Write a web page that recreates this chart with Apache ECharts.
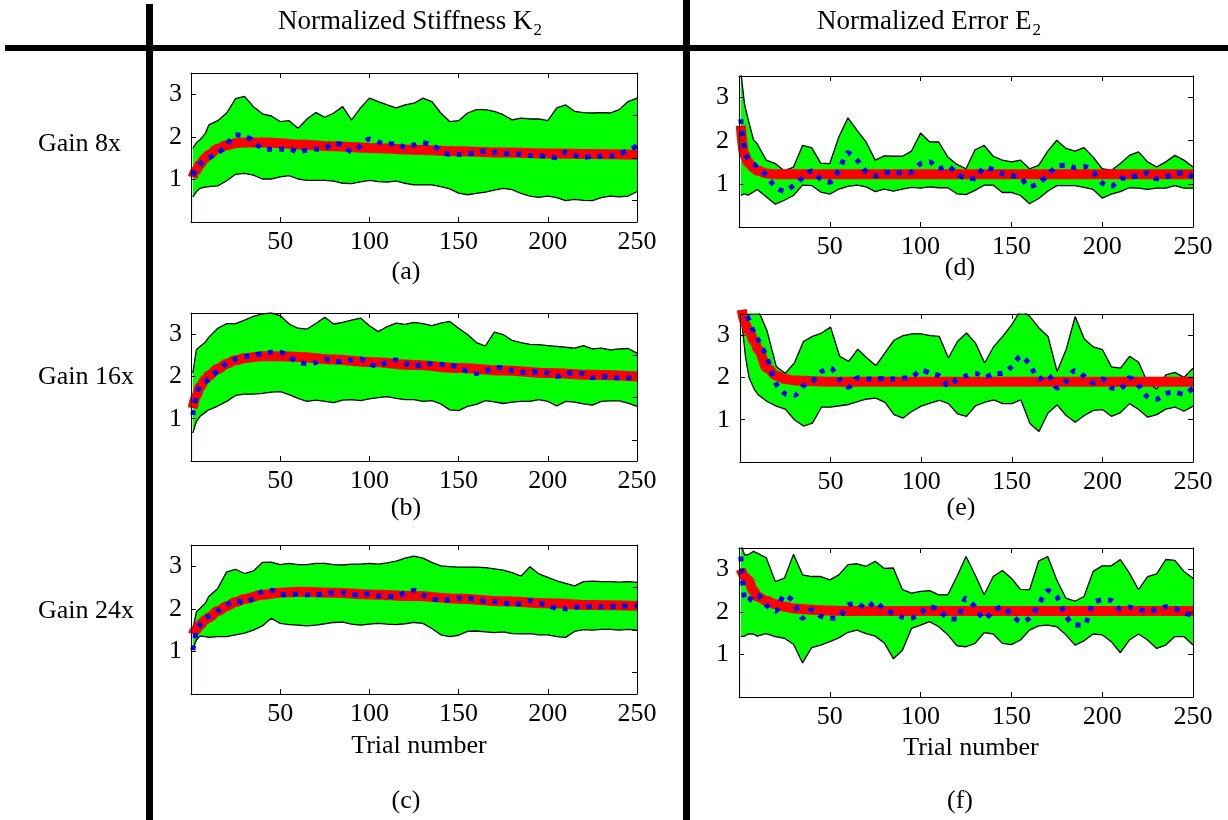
<!DOCTYPE html>
<html><head><meta charset="utf-8">
<script src="https://cdn.jsdelivr.net/npm/echarts@6/dist/echarts.min.js"></script>
<style>html,body{margin:0;padding:0;background:#fff;}#c{width:1228px;height:820px;}</style>
</head><body><div id="c"></div>
<script>
// ---------- data ----------
const trials = [1,3,5,8,10,15,20,25,30,35,40,45,50,55,60,65,70,75,80,85,90,95,100,105,110,115,120,125,130,135,140,145,150,155,160,165,170,175,180,185,190,195,200,205,210,215,220,225,230,235,240,245,250];
const fitTrials = [1,3,5,8,10,15,20,25,30,40,50,60,80,100,125,150,175,200,225,250];
const xTickLabels = [50,100,150,200,250];
const yTickLabels = [1,2,3];

const columnHeaders = ['Normalized Stiffness K', 'Normalized Error E'];
const headerSubscript = '2';
const rowLabels = ['Gain 8x', 'Gain 16x', 'Gain 24x'];
const panelLabels = ['(a)','(b)','(c)','(d)','(e)','(f)'];
const xAxisTitle = 'Trial number';

// (a) stiffness, gain 8x
const upperA = [1.73,1.86,1.93,2.08,2.28,2.38,2.56,2.90,2.95, 2.71,2.54,2.49,2.36,2.38,2.20,2.42,2.57,2.46,2.56, 2.71,2.40,2.68,2.91,2.83,2.75,2.68,2.75,2.79,2.91, 2.83,2.56,2.36,2.38,2.56,2.64,2.64,2.60,2.52,2.40, 2.44,2.42,2.42,2.38,2.68,2.75,2.60,2.57,2.56,2.57, 2.56,2.64,2.83,2.91];
const lowerA = [0.59,0.71,0.79,0.82,0.83,0.85,0.97,1.12,1.14, 1.10,1.01,1.01,1.06,1.09,1.01,0.98,0.98,0.98,0.96, 0.91,0.90,0.94,0.98,0.95,0.94,0.96,0.91,0.87,0.87, 0.87,0.83,0.78,0.68,0.64,0.67,0.70,0.75,0.79,0.76, 0.67,0.61,0.58,0.61,0.57,0.50,0.53,0.51,0.50,0.57, 0.61,0.59,0.61,0.71];
const dataA = [1.10,1.24,1.35,1.47,1.51,1.62,1.81,2.05,2.02, 1.91,1.72,1.71,1.71,1.72,1.64,1.69,1.71,1.73,1.85, 1.81,1.65,1.79,1.95,1.88,1.83,1.85,1.75,1.81,1.86, 1.81,1.68,1.59,1.59,1.60,1.63,1.67,1.64,1.61,1.61, 1.59,1.56,1.56,1.53,1.51,1.64,1.57,1.52,1.54,1.55, 1.55,1.60,1.68,1.79];
const fitA = [1.05,1.22,1.35,1.50,1.58,1.72,1.80,1.85,1.87,1.87,1.85,1.82,1.78,1.74,1.70,1.66,1.63,1.61,1.60,1.58];

// (b) stiffness, gain 16x
const upperB = [2.08,2.63,2.71,2.81,2.93,3.14,3.25,3.25,3.33, 3.42,3.48,3.50,3.44,3.24,3.14,3.12,3.25,3.40,3.24, 3.28,3.33,3.38,3.20,3.06,3.18,3.26,3.23,3.28,3.25, 3.20,3.26,3.30,3.14,2.99,2.80,2.72,3.05,2.99,2.85, 2.80,2.76,2.75,2.73,2.71,2.69,2.67,2.73,2.65,2.67, 2.63,2.65,2.66,2.55];
const lowerB = [0.66,0.93,1.05,1.15,1.21,1.30,1.41,1.55,1.58, 1.58,1.60,1.63,1.64,1.57,1.48,1.41,1.44,1.41,1.38, 1.44,1.45,1.43,1.47,1.50,1.52,1.48,1.45,1.45,1.41, 1.43,1.35,1.21,1.19,1.29,1.34,1.43,1.40,1.36,1.39, 1.41,1.41,1.45,1.41,1.30,1.41,1.39,1.35,1.32,1.41, 1.42,1.42,1.37,1.29];
const dataB = [1.09,1.56,1.78,1.87,1.94,2.14,2.31,2.41,2.46, 2.50,2.54,2.57,2.57,2.46,2.34,2.30,2.33,2.41,2.36, 2.35,2.39,2.41,2.29,2.24,2.35,2.39,2.31,2.24,2.29, 2.30,2.28,2.27,2.21,2.12,2.07,2.12,2.21,2.20,2.14, 2.10,2.10,2.11,2.08,2.00,2.06,2.09,2.06,1.97,2.00, 1.98,1.97,1.97,1.96];
const fitB = [1.25,1.55,1.75,1.93,2.02,2.18,2.30,2.38,2.43,2.48,2.48,2.46,2.40,2.34,2.27,2.20,2.14,2.08,2.04,2.00];

// (c) stiffness, gain 24x
const upperC = [1.50,1.93,2.01,2.13,2.29,2.48,2.87,2.93,2.83, 2.89,3.09,3.10,3.04,3.07,3.04,3.04,3.07,3.07,3.04, 3.03,3.05,3.05,3.07,3.05,3.08,3.12,3.19,3.24,3.19, 3.09,3.01,2.99,2.98,2.98,2.98,2.97,2.94,2.91,2.85, 2.77,2.99,2.82,2.74,2.66,2.60,2.54,2.64,2.65,2.64, 2.64,2.63,2.64,2.62];
const lowerC = [1.03,1.27,1.36,1.35,1.33,1.35,1.35,1.39,1.43, 1.50,1.60,1.78,1.66,1.63,1.62,1.60,1.62,1.65,1.68, 1.69,1.64,1.62,1.64,1.66,1.64,1.63,1.65,1.68,1.66, 1.54,1.39,1.35,1.38,1.47,1.48,1.46,1.44,1.46,1.42, 1.41,1.42,1.39,1.39,1.35,1.33,1.47,1.51,1.50,1.52, 1.52,1.50,1.52,1.50];
const dataC = [1.03,1.46,1.62,1.78,1.82,1.95,2.09,2.19,2.15, 2.25,2.41,2.44,2.35,2.33,2.35,2.33,2.33,2.36,2.38, 2.38,2.34,2.33,2.36,2.31,2.29,2.29,2.38,2.44,2.33, 2.24,2.21,2.22,2.25,2.25,2.21,2.18,2.17,2.15,2.10, 2.13,2.19,2.14,2.08,2.01,2.00,2.04,2.05,2.06,2.05, 2.05,2.07,2.07,2.07];
const fitC = [1.40,1.52,1.62,1.74,1.80,1.95,2.06,2.16,2.23,2.33,2.38,2.40,2.38,2.34,2.30,2.24,2.18,2.13,2.09,2.07];

// (d) error, gain 8x
const upperD = [3.60,2.86,2.50,2.02,1.93,1.55,1.47,1.30,1.39, 1.89,1.84,1.48,1.47,2.09,2.53,2.24,1.97,1.55,1.65, 1.64,1.64,1.76,2.18,1.97,1.97,1.62,1.45,1.35,1.79, 1.89,1.64,1.55,1.51,1.55,1.35,1.43,1.76,2.01,1.82, 1.76,1.84,1.62,1.35,1.31,1.47,1.66,1.74,1.51,1.39, 1.51,1.66,1.55,1.39];
const lowerD = [0.73,0.77,0.74,0.81,0.87,0.70,0.53,0.62,0.73, 0.97,0.96,0.81,0.76,0.88,0.94,0.97,0.93,0.82,0.88, 0.83,0.88,0.92,0.90,0.93,0.91,0.91,0.77,0.75,0.85, 0.97,0.97,0.80,0.80,0.73,0.54,0.66,0.83,0.96,0.96, 0.96,0.92,0.87,0.67,0.76,0.82,0.91,0.90,0.87,0.90, 0.90,0.96,0.90,0.90];
const dataD = [2.50,1.78,1.58,1.47,1.39,1.20,0.93,0.83,0.96, 1.14,1.30,1.11,1.04,1.31,1.72,1.55,1.28,1.19,1.25, 1.27,1.25,1.27,1.47,1.51,1.35,1.41,1.24,1.13,1.12, 1.38,1.33,1.24,1.20,1.14,0.93,1.02,1.20,1.41,1.43, 1.38,1.41,1.28,1.02,0.94,1.12,1.14,1.20,1.25,1.12, 1.16,1.24,1.25,1.16];
const fitD = [2.35,1.68,1.50,1.37,1.31,1.24,1.22,1.22,1.22,1.22,1.22,1.22,1.22,1.22,1.22,1.22,1.22,1.22,1.22,1.22];

// (e) error, gain 16x
const upperE = [3.60,3.60,3.60,3.60,3.60,3.09,2.26,2.10,2.34, 2.85,2.97,3.05,3.19,2.50,2.38,2.67,2.46,2.28,2.58, 2.88,2.99,3.03,3.03,2.99,2.97,2.46,2.85,3.05,2.81, 2.34,2.73,2.97,3.25,3.60,3.44,3.17,2.97,2.14,2.66, 3.44,2.91,2.72,2.66,2.25,2.22,2.50,2.36,1.87,1.73, 2.06,2.12,2.00,2.22];
const lowerE = [3.30,2.50,1.99,1.71,1.59,1.43,1.32,1.25,1.00, 0.85,0.92,1.30,1.30,1.33,1.36,1.43,1.49,1.51,1.41, 1.12,1.04,1.20,1.32,1.39,1.46,1.38,1.14,1.08,1.33, 1.41,1.47,1.38,1.38,1.47,0.91,0.72,1.16,1.35,1.10, 0.94,1.10,1.22,1.24,1.08,1.17,1.38,1.24,1.06,1.12, 1.25,1.30,1.20,1.32];
const dataE = [3.70,3.52,3.36,3.03,2.89,2.46,1.84,1.61,1.57, 1.80,1.91,2.14,2.22,1.95,1.77,1.99,1.96,1.96,1.98, 1.96,1.98,2.01,2.17,2.10,2.04,1.80,1.96,2.04,2.10, 2.01,2.09,2.10,2.26,2.51,2.30,1.96,2.06,1.75,1.91, 2.17,2.03,1.87,1.96,1.75,1.73,1.99,1.81,1.54,1.49, 1.62,1.65,1.60,1.75];
const fitE = [3.60,3.25,3.09,2.85,2.66,2.22,2.04,1.96,1.93,1.91,1.90,1.90,1.90,1.90,1.90,1.90,1.90,1.90,1.90,1.90];

// (f) error, gain 24x
const upperF = [3.60,3.34,3.34,3.42,3.38,3.27,2.71,2.79,3.35, 2.87,2.83,2.83,2.75,2.87,3.11,3.13,3.07,3.19,3.02, 3.03,2.52,2.44,2.48,2.50,2.40,2.40,2.83,3.30,2.87, 2.40,2.83,2.97,2.79,2.53,2.52,3.19,3.30,2.75,2.32, 2.25,2.36,2.95,3.08,3.08,3.23,2.91,2.52,2.83,2.89, 3.23,3.21,2.95,2.79];
const lowerF = [1.42,1.43,1.48,1.48,1.43,1.49,1.42,1.38,1.24, 0.80,1.16,1.22,1.30,1.39,1.52,1.57,1.49,1.43,1.27, 0.90,1.10,1.61,1.69,1.77,1.65,1.46,1.20,1.18,1.26, 1.51,1.48,1.26,1.23,1.34,1.57,1.67,1.69,1.65,1.46, 1.22,1.32,1.48,1.46,1.30,1.04,1.34,1.48,1.34,1.14, 1.22,1.42,1.42,1.22];
const dataF = [3.30,2.32,2.24,2.40,2.40,2.16,2.01,2.40,2.24, 1.85,2.05,1.90,1.85,1.87,2.16,2.20,2.08,2.24,2.05, 1.97,1.87,1.85,1.97,2.12,2.05,1.85,1.83,2.32,2.12, 1.83,2.01,2.12,1.93,1.77,1.85,2.16,2.50,2.36,1.90, 1.69,1.69,2.20,2.28,2.27,2.06,2.11,2.05,2.03,2.05, 2.12,2.08,1.97,1.93];
const fitF = [3.00,2.83,2.75,2.50,2.36,2.26,2.18,2.12,2.08,2.05,2.03,2.02,2.02,2.02,2.02,2.02,2.02,2.02,2.02,2.02];

// right-hand tick marks (no labels)
const rightTicksLeftCol = [0.5,1.5,2.5];
const rightTicksRightCol = [1,2,3];

// ---------- layout ----------
const FONT = '"Liberation Serif","Times New Roman",serif';
const panels = [
  {upper: upperA, lower: lowerA, data: dataA, fit: fitA, rt: rightTicksLeftCol, g: {left:191, top:73, width:446, height:149}, ym: 9},
  {upper: upperB, lower: lowerB, data: dataB, fit: fitB, rt: rightTicksLeftCol, g: {left:191, top:313, width:446, height:148}, ym: 9},
  {upper: upperC, lower: lowerC, data: dataC, fit: fitC, rt: rightTicksLeftCol, g: {left:191, top:545, width:446, height:149}, ym: 9},
  {upper: upperD, lower: lowerD, data: dataD, fit: fitD, rt: rightTicksRightCol, g: {left:739, top:76, width:454, height:151}, ym: 10},
  {upper: upperE, lower: lowerE, data: dataE, fit: fitE, rt: rightTicksRightCol, g: {left:740, top:314, width:453, height:148}, ym: 10},
  {upper: upperF, lower: lowerF, data: dataF, fit: fitF, rt: rightTicksRightCol, g: {left:739, top:548, width:454, height:149}, ym: 10}
];

const axisLineStyle = {show:true, onZero:false, lineStyle:{color:'#000', width:1}};
const grid = [], xAxis = [], yAxis = [], series = [];
panels.forEach((p, i) => {
  grid.push(Object.assign({show:false, containLabel:false}, p.g));
  const tickX = {show:true, inside:true, length:5, customValues: xTickLabels.slice(0,4), lineStyle:{color:'#000', width:1}};
  xAxis.push({gridIndex:i, z:6, type:'value', min:0, max:250, position:'bottom', axisLine:axisLineStyle, axisTick:tickX,
    axisLabel:{customValues:xTickLabels, fontSize:26, fontFamily:FONT, color:'#000', margin:7}, splitLine:{show:false}});
  xAxis.push({gridIndex:i, z:6, type:'value', min:0, max:250, position:'top', axisLine:axisLineStyle, axisTick:tickX,
    axisLabel:{show:false}, splitLine:{show:false}});
  yAxis.push({gridIndex:i, z:6, type:'value', min:0, max:3.5, position:'left', axisLine:axisLineStyle,
    axisTick:{show:true, inside:true, length:5, customValues:yTickLabels, lineStyle:{color:'#000', width:1}},
    axisLabel:{customValues:yTickLabels, fontSize:26, fontFamily:FONT, color:'#000', margin:p.ym}, splitLine:{show:false}});
  yAxis.push({gridIndex:i, z:6, type:'value', min:0, max:3.5, position:'right', axisLine:axisLineStyle,
    axisTick:{show:true, inside:true, length:5, customValues:p.rt, lineStyle:{color:'#000', width:1}},
    axisLabel:{show:false}, splitLine:{show:false}});
  const xi = 2*i, yi = 2*i;
  const pair = arr => trials.map((t, k) => [t, arr[k]]);
  const base = {type:'line', xAxisIndex:xi, yAxisIndex:yi, symbol:'none', showSymbol:false, silent:true, animation:false};
  // green band: upper bound filled down to the axis, then white fill below the lower bound
  series.push(Object.assign({}, base, {data: pair(p.upper), lineStyle:{color:'#000', width:1.3},
    areaStyle:{color:'#00ff00', opacity:1, origin:'start'}, z:1}));
  series.push(Object.assign({}, base, {data: pair(p.lower), lineStyle:{color:'#000', width:1.3},
    areaStyle:{color:'#ffffff', opacity:1, origin:'start'}, z:1}));
  series.push(Object.assign({}, base, {data: fitTrials.map((t,k)=>[t, p.fit[k]]), smooth:0.4, smoothMonotone:'x',
    lineStyle:{color:'#ff0000', width:10, cap:'butt'}, z:3}));
  series.push(Object.assign({}, base, {data: pair(p.data), smooth:0.25,
    lineStyle:{color:'#0000ff', width:5, type:[5,7], cap:'butt'}, z:4}));
});

const graphic = [];
// table rules
graphic.push({type:'rect', shape:{x:5, y:45, width:1223, height:6}, style:{fill:'#000'}, z:10});
graphic.push({type:'rect', shape:{x:146, y:4, width:7, height:816}, style:{fill:'#000'}, z:10});
graphic.push({type:'rect', shape:{x:683, y:0, width:7, height:820}, style:{fill:'#000'}, z:10});
// column headers with subscript (rich text)
const headerPos = [{x:278, y:22}, {x:817, y:22}];
columnHeaders.forEach((h, i) => {
  const hp = headerPos[i];
  graphic.push({type:'text', x:hp.x, y:hp.y, z:10, style:{
    text:'{m|' + h + '}{s|' + headerSubscript + '}', textAlign:'left', textVerticalAlign:'middle',
    rich:{
      m:{fontSize:27, fontFamily:FONT, fill:'#000', lineHeight:34, verticalAlign:'middle'},
      s:{fontSize:17, fontFamily:FONT, fill:'#000', lineHeight:17, verticalAlign:'bottom', padding:[0,0,0,1]}
    }}});
});
// row labels
const rowY = [144, 377, 611];
rowLabels.forEach((r, i) => graphic.push({type:'text', x:38, y:rowY[i], style:{text:r, fontSize:26, fontFamily:FONT, fill:'#000', textAlign:'left', textVerticalAlign:'middle'}, z:10}));
// panel labels
const panelPos = [[406,272],[406,508],[406,801],[960,268],[961,508],[960,801]];
panelLabels.forEach((l, i) => graphic.push({type:'text', x:panelPos[i][0], y:panelPos[i][1], style:{text:l, fontSize:26, fontFamily:FONT, fill:'#000', textAlign:'center', textVerticalAlign:'middle'}, z:10}));
// axis titles
[[419,746],[971,748]].forEach(p => graphic.push({type:'text', x:p[0], y:p[1], style:{text:xAxisTitle, fontSize:26, fontFamily:FONT, fill:'#000', textAlign:'center', textVerticalAlign:'middle'}, z:10}));

const chart = echarts.init(document.getElementById('c'), null, {renderer:'canvas'});
chart.setOption({animation:false, backgroundColor:'#fff', grid, xAxis, yAxis, series, graphic});
</script></body></html>
